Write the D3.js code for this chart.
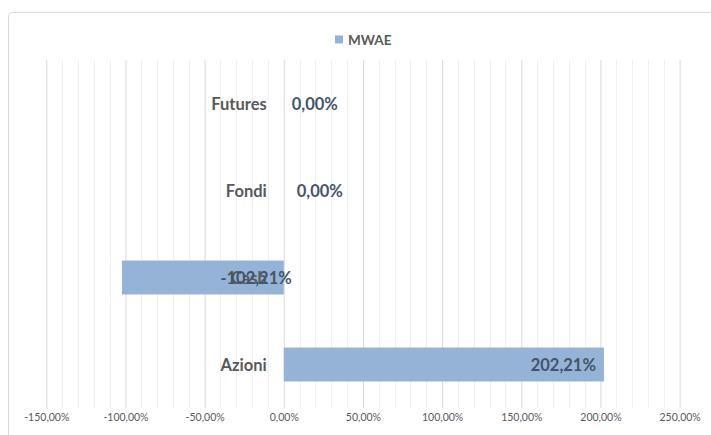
<!DOCTYPE html>
<html>
<head>
<meta charset="utf-8">
<script src="https://cdn.jsdelivr.net/npm/d3@7"></script>
<style>
  body { margin: 0; background: #fff; }
  svg { font-family: Lato, "Open Sans", sans-serif; }
</style>
</head>
<body>
<script>
// Chart size
var w = 711;
var h = 435;

// Data
var categories = ["Futures", "Fondi", "Cash", "Azioni"];
var values = [0, 0, -102.21, 202.21];
var seriesName = "MWAE";
var tickValues = [-150, -100, -50, 0, 50, 100, 150, 200, 250];

var fmt = function(v) {
  return v.toFixed(2).replace(".", ",") + "%";
};

// Plot area (avoid the name "top", it is window.top)
var plotLeft = 46.3, plotRight = 679.6, plotTop = 60, plotBottom = 408;

var xScale = d3.scaleLinear()
  .domain([-150, 250])
  .range([plotLeft, plotRight]);

var yScale = d3.scaleBand()
  .domain(categories)
  .range([plotTop, plotBottom])
  .paddingInner(0.61)
  .paddingOuter(0.305);

var svg = d3.select("body")
  .append("svg")
  .attr("width", w)
  .attr("height", h);

// Chart border
svg.append("rect")
  .attr("x", 8.5)
  .attr("y", 12.5)
  .attr("width", 712)
  .attr("height", 430)
  .attr("rx", 4)
  .attr("fill", "#fff")
  .attr("stroke", "#d9d9d9");

// Minor gridlines every 10%
svg.append("g")
  .selectAll("line")
  .data(d3.range(-150, 251, 10).filter(function(d) { return d % 50 !== 0; }))
  .enter()
  .append("line")
  .attr("x1", function(d) { return Math.round(xScale(d)) + 0.5; })
  .attr("x2", function(d) { return Math.round(xScale(d)) + 0.5; })
  .attr("y1", plotTop)
  .attr("y2", plotBottom)
  .attr("stroke", "#f0f0f0");

// X axis with major gridlines
var xAxis = d3.axisBottom(xScale)
  .tickValues(tickValues)
  .tickSize(plotBottom - plotTop)
  .tickFormat(fmt);

var gx = svg.append("g")
  .attr("transform", "translate(0," + plotTop + ")")
  .call(xAxis);
gx.select(".domain").remove();
gx.selectAll(".tick line")
  .attr("stroke", "#d9d9d9");
gx.selectAll(".tick text")
  .attr("y", plotBottom - plotTop + 6)
  .attr("fill", "#595959")
  .attr("font-size", "10.5px")
  .attr("font-family", "Lato, 'Open Sans', sans-serif");

// Bars
svg.selectAll("rect.bar")
  .data(values)
  .enter()
  .append("rect")
  .attr("class", "bar")
  .attr("x", function(d) { return xScale(Math.min(0, d)); })
  .attr("y", function(d, i) { return yScale(categories[i]); })
  .attr("width", function(d) { return Math.abs(xScale(d) - xScale(0)); })
  .attr("height", yScale.bandwidth())
  .attr("fill", "#95b3d7");

// Category labels
svg.selectAll("text.cat")
  .data(categories)
  .enter()
  .append("text")
  .attr("class", "cat")
  .text(function(d) { return d; })
  .attr("x", xScale(0) - 17)
  .attr("y", function(d) { return yScale(d) + yScale.bandwidth() / 2 + 6; })
  .attr("text-anchor", "end")
  .attr("font-size", "16.5px")
  .attr("font-weight", "bold")
  .attr("fill", "#595959");

// Data labels
svg.selectAll("text.val")
  .data(values)
  .enter()
  .append("text")
  .attr("class", "val")
  .text(function(d) { return fmt(d); })
  .attr("x", function(d, i) {
    if (d > 0) return xScale(d) - 8;
    if (d < 0) return xScale(0) + 8;
    return xScale(0) + 8 + (i === 1 ? 5 : 0);
  })
  .attr("y", function(d, i) { return yScale(categories[i]) + yScale.bandwidth() / 2 + 6; })
  .attr("text-anchor", function(d) { return d === 0 ? "start" : "end"; })
  .attr("font-size", "16.5px")
  .attr("font-weight", "bold")
  .attr("fill", "#44546a");

// Legend
var legend = svg.append("g");
legend.append("rect")
  .attr("x", 335)
  .attr("y", 35.5)
  .attr("width", 8)
  .attr("height", 8)
  .attr("fill", "#95b3d7");
legend.append("text")
  .text(seriesName)
  .attr("x", 348)
  .attr("y", 44.5)
  .attr("font-size", "13.5px")
  .attr("font-weight", "bold")
  .attr("fill", "#595959");
</script>
</body>
</html>
